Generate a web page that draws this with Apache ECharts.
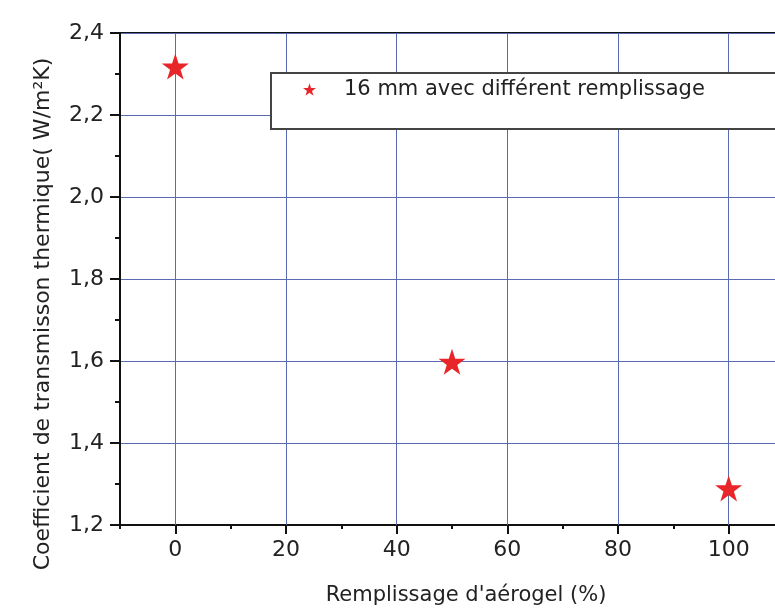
<!DOCTYPE html>
<html>
<head>
<meta charset="utf-8">
<script src="https://cdn.jsdelivr.net/npm/echarts@6/dist/echarts.min.js"></script>
<style>
  html, body { margin: 0; padding: 0; background: #fff; }
  #main { width: 775px; height: 609px; }
</style>
</head>
<body>
<div id="main"></div>
<script>
// remplissage (%) et coefficient U
var fillPct = [0, 50, 100];
var uValues = [2.318, 1.598, 1.289];
var seriesName = "16 mm avec différent remplissage";
var xTicks = [0, 20, 40, 60, 80, 100];
var xMinorTicks = [-10, 10, 30, 50, 70, 90];

var chart = echarts.init(document.getElementById("main"));
var font = "DejaVu Sans, Liberation Sans, Arial, sans-serif";
var gridColor = "#5a6ab3";
var starPath = "path://M50,0 L61.8,35.1 L98.9,35.1 L69,57.3 L80.2,92.7 L50,70.8 L19.8,92.7 L31,57.3 L1.1,35.1 L38.2,35.1 Z";

var option = {
  backgroundColor: "#fff",
  animation: false,
  grid: {
    left: 120,
    top: 33,
    width: 664,
    bottom: 84,
    outerBoundsMode: "none",
    show: true,
    borderColor: "#111",
    borderWidth: 2,
    backgroundColor: "transparent"
  },
  legend: {
    left: 271,
    top: 73,
    orient: "vertical",
    padding: [6, 500, 29, 32],
    backgroundColor: "#fff",
    borderColor: "#444",
    borderWidth: 2,
    itemWidth: 13,
    itemHeight: 13,
    data: [{ name: seriesName, icon: starPath }],
    textStyle: {
      fontFamily: font,
      fontSize: 21,
      color: "#222",
      padding: [0, 0, 0, 23]
    }
  },
  xAxis: [
    {
      type: "value",
      min: -10,
      max: 110,
      interval: 10,
      name: "Remplissage d'aérogel (%)",
      nameLocation: "middle",
      nameGap: 60,
      nameTextStyle: { fontFamily: font, fontSize: 21, color: "#222", padding: [0, 0, 0, 28] },
      axisLine: { show: true, onZero: false, lineStyle: { color: "#111", width: 2 } },
      axisTick: { show: true, customValues: xTicks, length: 9, lineStyle: { color: "#111", width: 2 } },
      axisLabel: {
        customValues: xTicks,
        margin: 14,
        fontFamily: font,
        fontSize: 22,
        color: "#222"
      },
      splitLine: { show: false }
    },
    {
      type: "value",
      min: -10,
      max: 110,
      interval: 10,
      position: "bottom",
      axisLine: { show: false, onZero: false },
      axisTick: { show: true, customValues: xMinorTicks, length: 4, lineStyle: { color: "#111", width: 2 } },
      axisLabel: { show: false },
      splitLine: { show: false }
    }
  ],
  yAxis: {
    type: "value",
    min: 1.2,
    max: 2.4,
    interval: 0.2,
    name: "Coefficient de transmisson thermique( W/m²K)",
    nameLocation: "middle",
    nameGap: 66,
    nameTextStyle: { fontFamily: font, fontSize: 22, color: "#222", padding: [0, 70, 0, 0] },
    axisLine: { show: true, onZero: false, lineStyle: { color: "#111", width: 2 } },
    axisTick: { show: true, inside: false, length: 10, lineStyle: { color: "#111", width: 2 } },
    minorTick: { show: true, splitNumber: 2, length: 5, lineStyle: { color: "#111", width: 2 } },
    axisLabel: {
      margin: 16,
      fontFamily: font,
      fontSize: 22,
      color: "#222",
      formatter: function (v) { return v.toFixed(1).replace(".", ","); }
    },
    splitLine: { show: true, lineStyle: { color: gridColor, width: 1 } }
  },
  series: [
    {
      // lignes de grille verticales aux graduations principales
      name: "grille",
      type: "line",
      z: 1,
      silent: true,
      data: [],
      markLine: {
        silent: true,
        z: 1,
        symbol: ["none", "none"],
        label: { show: false },
        lineStyle: { color: gridColor, width: 1, type: "solid" },
        data: xTicks.map(function (v) { return { xAxis: v }; })
      }
    },
    {
      name: seriesName,
      type: "scatter",
      z: 4,
      symbol: starPath,
      symbolSize: [27, 26],
      itemStyle: { color: "#e8262a", opacity: 1 },
      data: fillPct.map(function (x, i) { return [x, uValues[i]]; })
    }
  ]
};

chart.setOption(option);
</script>
</body>
</html>
